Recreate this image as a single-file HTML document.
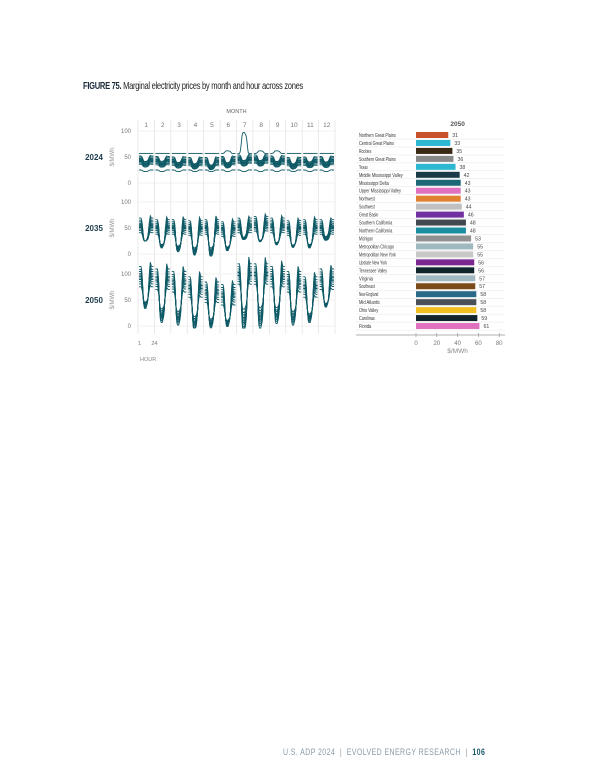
<!DOCTYPE html>
<html><head><meta charset="utf-8"><style>
body{margin:0;background:#fff;font-family:"Liberation Sans",sans-serif;}
#wrap{position:relative;width:600px;height:776px;overflow:hidden;}
.t{position:absolute;white-space:nowrap;}
</style></head><body>
<div id="wrap">
<div class="t" style="left:83px;top:80px;font-size:10.5px;color:#222;letter-spacing:-0.4px;transform:scaleX(0.72);transform-origin:left;"><b style="color:#1b2a3a">FIGURE 75.</b> Marginal electricity prices by month and hour across zones</div>
<svg id="lines" width="600" height="776" style="position:absolute;left:0;top:0" font-family="Liberation Sans, sans-serif"></svg>
<div class="t" style="left:283px;top:747px;font-size:9px;color:#8a9aa6;letter-spacing:0.5px;transform:scaleX(0.78);transform-origin:left;">U.S. ADP 2024 &nbsp;|&nbsp; EVOLVED ENERGY RESEARCH &nbsp;|&nbsp; <b style="color:#1b5a6a">106</b></div>
</div>
<script>
// ---- line chart data ----
const years=["2024","2035","2050"];
const monthLabels=["1","2","3","4","5","6","7","8","9","10","11","12"];
const top2024=[44,43,42,41,41,43,46,46,44,41,42,43];
const dip2024=[36,36,34,32,30,34,38,38,36,32,35,35];
const spike2024=[0,0,0,0,0,5,40,5,5,0,0,0];
const top2035=[55,52,52,50,52,48,55,58,55,50,52,52];
const dip2035=[25,15,10,5,3,10,30,25,20,15,15,30];
const top2050=[95,90,85,75,65,60,100,100,95,85,75,90];
const dip2050=[40,20,15,5,5,5,10,15,20,15,15,40];
const zoneOffsets=[-14,-10,-7,-4,-2,0,2,4,7,10,14];
const dipShape=[0,0,0,0,0.05,0.2,0.5,0.8,0.95,1,1,1,0.95,0.9,0.8,0.6,0.3,0.05,-0.1,-0.05,0,0,0,0];
const yTicks=[0,50,100];
// ---- bar chart data ----
const zones=["Northern Great Plains","Central Great Plains","Rockies","Southern Great Plains","Texas","Middle Mississippi Valley","Mississippi Delta","Upper Mississippi Valley","Northwest","Southwest","Great Basin","Southern California","Northern California","Michigan","Metropolitan Chicago","Metropolitan New York","Upstate New York","Tennessee Valley","Virginia","Southeast","New England","Mid Atlantic","Ohio Valley","Carolinas","Florida"];
const prices=[31,33,35,36,38,42,43,43,43,44,46,48,48,53,55,55,56,56,57,57,58,58,58,59,61];
const barColors=["#c8502a","#2bb8d0","#3a2a14","#888888","#2bb8d0","#1b3a48","#1b6878","#e070c0","#e08030","#c0c0c0","#7030a0","#404850","#1a8ea0","#909090","#a0b8c0","#c8c8c8","#7a2890","#10242c","#a0b8c0","#7a4a1a","#2a6a88","#4a5058","#f0c020","#10242c","#e070c0"];
const xTicks=[0,20,40,60,80];

const svg=document.getElementById('lines');
const NS="http://www.w3.org/2000/svg";
function mk(tag,attrs,name,parent){const e=document.createElementNS(NS,tag);for(const k in attrs)e.setAttribute(k,attrs[k]);


(parent||svg).appendChild(e);return e;}
function txt(x,y,s,name,opts){const e=mk('text',Object.assign({x:x,y:y,'font-size':6,fill:'#777'},opts||{}),name);e.textContent=s;return e;}

const X0=138,X1=335,mw=(X1-X0)/12;
const zeroY=[183,254,326],ppu=0.52;
const tops=[top2024,top2035,top2050],dips=[dip2024,dip2035,dip2050];
txt((X0+X1)/2,113,"MONTH","month-axis-title",{'text-anchor':'middle','font-size':5.5,'fill':'#666'});
monthLabels.forEach((m,i)=>{txt(X0+mw*(i+0.5),127,m,'month-label',{'text-anchor':'middle','font-size':6.5});});
for(let i=0;i<=12;i++){mk('line',{x1:X0+mw*i,x2:X0+mw*i,y1:120,y2:334,stroke:'#e2e2e2','stroke-width':0.7},'month-gridline');}
years.forEach((yr,p)=>{
  const y=v=>zeroY[p]-v*ppu;
  yTicks.forEach(t=>{mk('line',{x1:X0,x2:X1,y1:y(t),y2:y(t),stroke:'#e6e6e6','stroke-width':0.6},'y-gridline');
    txt(131,y(t)+2,String(t),'y-tick-label',{'text-anchor':'end','font-size':6});});
  const ym=y(50);
  txt(94,ym+3,yr,'year-label-'+yr,{'text-anchor':'middle','font-size':8,'font-weight':'bold',fill:'#1b3a4a'});
  const yl=txt(0,0,"$/MWh",'y-axis-title',{'text-anchor':'middle','font-size':6,fill:'#999'});
  yl.setAttribute('transform','translate(114,'+ym+') rotate(-90)');
  for(let m=0;m<12;m++){
    zoneOffsets.forEach((off,zi)=>{
      let d="";
      dipShape.forEach((s,h)=>{
        let v=tops[p][m]+off*(p===0?0.8:(p===1?1:1.4))-(tops[p][m]-dips[p][m])*s*(1+off/30);
        if(p===0&&zi===zoneOffsets.length-1)v=57+spike2024[m]*Math.max(0,s);
        if(p===0&&zi===0)v=25-3*s;
        const px=X0+mw*m+1+h*(mw-2)/23;
        d+=(h?"L":"M")+px.toFixed(1)+","+y(Math.max(-4,v)).toFixed(1);
      });
      mk('path',{d:d,fill:'none',stroke:'#0f5a66','stroke-width':0.9},'price-line-'+yr);
    });
  }
});
txt(X0,345,"1","hour-tick",{'font-size':5.5});
txt(X0+mw,345,"24","hour-tick",{'font-size':5.5,'text-anchor':'middle'});
txt(X0+2,361,"HOUR","hour-axis-title",{'font-size':5.5,fill:'#888'});

// ---- bars ----
const B0=416,bpu=1.04,R0=135,rs=7.96;
const bx=v=>B0+v*bpu;
txt(bx(40),126,"2050","bar-chart-title",{'text-anchor':'middle','font-size':6.5,'font-weight':'bold',fill:'#555'});
zones.forEach((z,i)=>{
  const cy=R0+i*rs;
  mk('line',{x1:356,x2:505,y1:cy+4,y2:cy+4,stroke:'#e4e4e4','stroke-width':0.5},'row-divider');
  txt(359,cy+2,z,'zone-label',{'font-size':5.2,fill:'#333',textLength:(z.length*1.75).toFixed(1),lengthAdjust:'spacingAndGlyphs'});
  mk('rect',{x:B0,y:cy-3,width:bx(prices[i])-B0,height:6,fill:barColors[i]},'bar-'+z.toLowerCase().replace(/ /g,'-'));
  txt(bx(prices[i])+4,cy+2,String(prices[i]),'bar-value',{'font-size':5.2,fill:'#444'});
});
mk('line',{x1:356,x2:505,y1:335,y2:335,stroke:'#999','stroke-width':0.7},'bar-x-axis');
xTicks.forEach(t=>{mk('line',{x1:bx(t),x2:bx(t),y1:333,y2:337,stroke:'#999','stroke-width':0.7},'bar-x-tick');
  txt(bx(t),345,String(t),'bar-x-tick-label',{'text-anchor':'middle','font-size':6});});
txt(bx(40),353,"$/MWh","bar-x-axis-title",{'text-anchor':'middle','font-size':6.5,fill:'#888'});
</script>
</body></html>
